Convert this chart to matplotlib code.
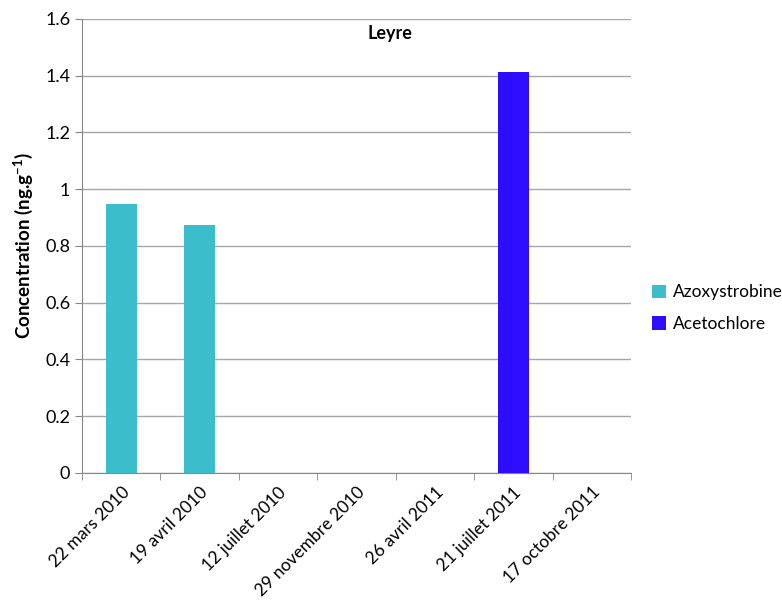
import numpy as np
import matplotlib.pyplot as plt

plt.rcParams['font.family'] = ['Lato', 'DejaVu Sans']

dates = ["22 mars 2010", "19 avril 2010", "12 juillet 2010", "29 novembre 2010",
         "26 avril 2011", "21 juillet 2011", "17 octobre 2011"]
azoxystrobine = [0.948, 0.874, 0, 0, 0, 0, 0]
acetochlore = [0, 0, 0, 0, 0, 1.413, 0]

fig = plt.figure(figsize=(7.82, 6.07), dpi=100)
ax = fig.add_axes([0.1049, 0.2208, 0.702, 0.748])

x = np.arange(len(dates))
ax.bar(x, azoxystrobine, width=0.4, color="#3BBDCB", label="Azoxystrobine", zorder=3)
ax.bar(x, acetochlore, width=0.4, bottom=azoxystrobine, color="#2E0DFF",
       label="Acetochlore", zorder=3)

ax.set_xlim(-0.5, len(dates) - 0.5)
ax.set_ylim(0, 1.6)
ax.set_yticks(np.arange(0, 1.61, 0.2))
ax.set_yticklabels(["0", "0.2", "0.4", "0.6", "0.8", "1", "1.2", "1.4", "1.6"])
ax.yaxis.grid(True, color="#A6A6A6", linewidth=1, zorder=0)

ax.set_xticks(x)
ax.set_xticklabels(dates, rotation=45, ha="right", va="top", rotation_mode="anchor")
ax.set_xticks(np.arange(-0.5, len(dates)), minor=True)
ax.tick_params(axis="x", which="major", length=0, pad=8, labelsize=12.5)
ax.tick_params(axis="x", which="minor", length=5, color="#868686")
ax.tick_params(axis="y", length=5, color="#868686", labelsize=13)

for s in ["top", "right"]:
    ax.spines[s].set_visible(False)
for s in ["left", "bottom"]:
    ax.spines[s].set_color("#868686")

ax.set_ylabel("Concentration (ng.g$^{\\mathregular{-1}}$)", fontsize=13.5, fontweight="bold", labelpad=7)
ax.text(0.561, 0.969, "Leyre", transform=ax.transAxes, fontsize=13, fontweight="bold",
        ha="center", va="center")

ax.legend(loc="center left", bbox_to_anchor=(1.01, 0.363), frameon=False, fontsize=12.5,
          handlelength=0.8, handleheight=0.8, handletextpad=0.4, labelspacing=0.9)

fig.savefig("out.png", dpi=100)
